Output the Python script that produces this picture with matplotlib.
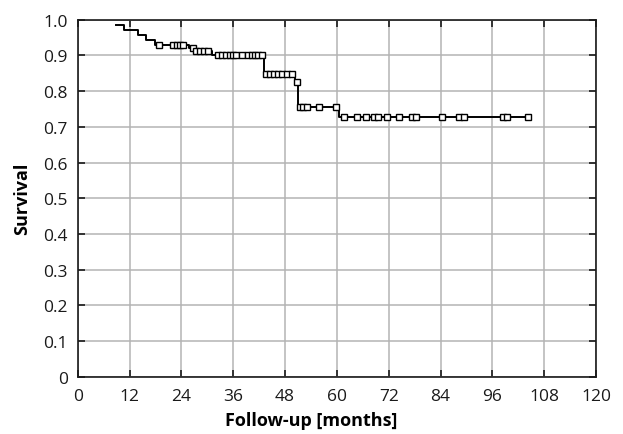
import matplotlib
matplotlib.use("Agg")
import matplotlib.pyplot as plt
import numpy as np

plt.rcParams['font.family'] = ['Open Sans', 'DejaVu Sans']

# Kaplan-Meier curve: start point, event times and survival after each event
start_time = 8.8
start_surv = 0.986
event_times = [10.8, 14.0, 15.8, 17.8, 25.8, 27.0, 31.0, 43.1, 50.4, 51.1, 60.5]
event_surv = [0.972, 0.958, 0.944, 0.930, 0.921, 0.912, 0.900, 0.848, 0.826, 0.756, 0.727]
# censored observations
censor_times = [18.8, 22.1, 22.9, 23.7, 24.4, 26.6, 27.5, 28.4, 29.3, 30.2,
                32.5, 33.4, 34.3, 35.3, 36.0, 36.7, 38.1, 39.4, 40.4, 41.1,
                41.8, 42.7, 43.7, 44.5, 45.4, 46.3, 47.3, 48.4, 49.6, 50.8,
                51.5, 52.2, 53.0, 55.9, 59.8, 61.6, 64.6, 66.7, 68.6, 69.6,
                71.6, 74.5, 77.3, 78.4, 84.3, 88.2, 89.4, 98.4, 99.4, 104.3]

xticks = np.arange(0, 121, 12)
yticks = np.arange(0, 1.01, 0.1)
ylabels = ['0'] + ['%.1f' % v for v in yticks[1:]]

t = np.array([start_time] + event_times + [censor_times[-1]])
s = np.array([start_surv] + event_surv + [event_surv[-1]])
ct = np.array(censor_times)
idx = np.searchsorted(t[:-1], ct, side='right') - 1
cs = s[idx]

fig = plt.figure(figsize=(6.23, 4.35), dpi=100)
ax = fig.add_axes([0.1247, 0.1317, 0.832, 0.8207])

ax.grid(True, color='#b4b4b4', linewidth=1.1)
ax.set_axisbelow(True)
ax.plot(t, s, drawstyle='steps-post', color='black', linewidth=1.4, zorder=3)
ax.plot(ct, cs, 's', markersize=5, markerfacecolor='white',
        markeredgecolor='black', markeredgewidth=1.0, linestyle='none', zorder=4)

ax.set_xlim(0, 120)
ax.set_ylim(0, 1.0)
ax.set_xticks(xticks)
ax.set_yticks(yticks)
ax.set_yticklabels(ylabels)
ax.tick_params(direction='in', length=5, width=1.2, top=True, right=True,
               labelsize=12.5, colors='#1a1a1a')
ax.tick_params(axis='x', pad=8)
ax.tick_params(axis='y', pad=7)
for sp in ax.spines.values():
    sp.set_linewidth(1.2)
    sp.set_color('#1a1a1a')

ax.set_xlabel('Follow-up [months]', fontsize=13, fontweight='bold')
ax.xaxis.set_label_coords(0.451, -0.095)
ax.set_ylabel('Survival', fontsize=13, fontweight='bold', labelpad=9)

fig.savefig('out.png', dpi=100)
